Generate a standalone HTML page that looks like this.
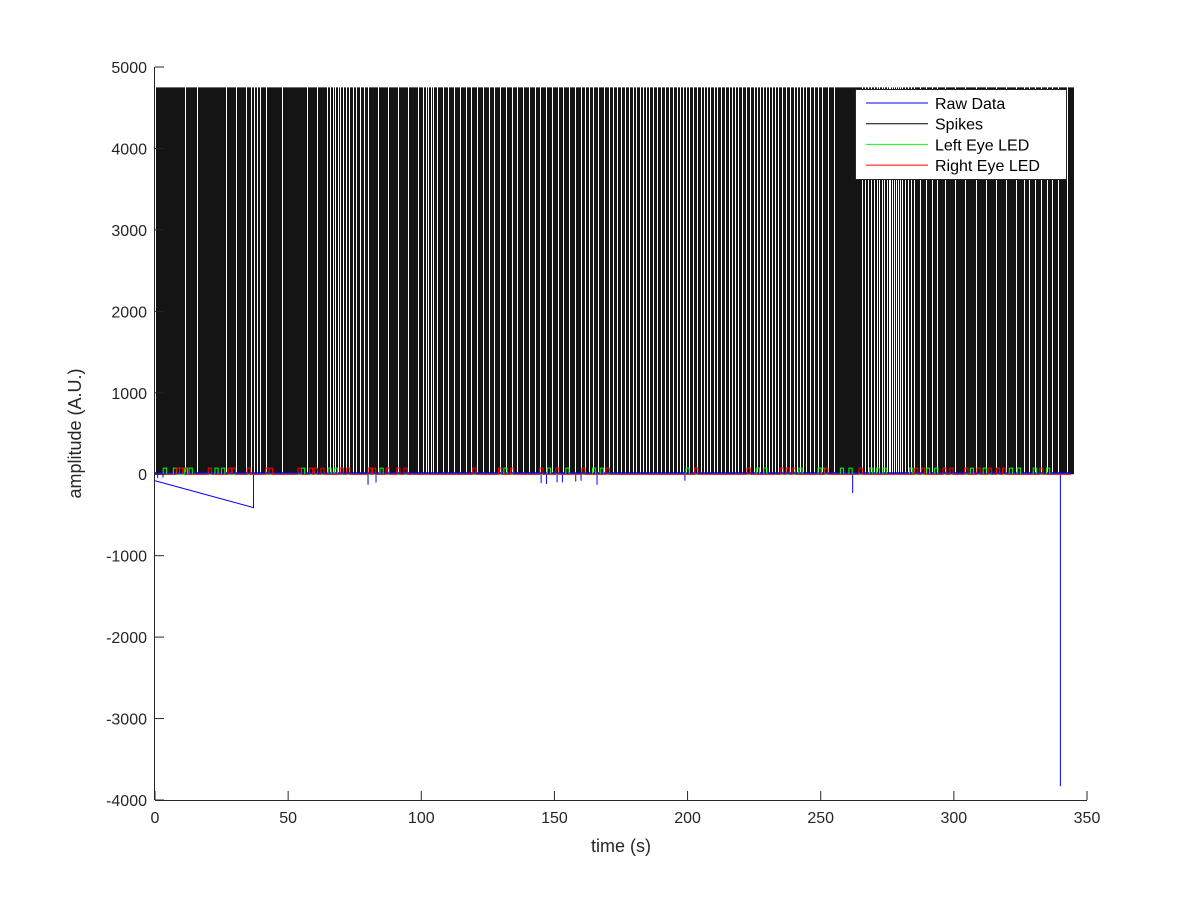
<!DOCTYPE html>
<html><head><meta charset="utf-8"><style>
body{margin:0;background:#fff}
svg{display:block;font-family:"Liberation Sans",sans-serif}
</style></head><body>
<svg id="chart" width="1200" height="900" xmlns="http://www.w3.org/2000/svg">
<rect width="1200" height="900" fill="#fff"/>
<g id="plot"></g>
<g id="axes"></g>
<g id="legend"></g>
</svg>
<script>
// spike counts per 5 s bin (0-5, 5-10, ...)
const spikeBinWidth = 5;
const spikeCounts = [13,13,12,13,13,12,12,9,12,13,13,12,12,8,9,10,12,12,12,12,8,11,11,11,11,11,11,11,11,11,11,11,10,11,10,10,9,10,10,9,10,9,10,9,10,9,9,10,9,10,11,13,13,9,8,6,9,11,11,12,12,12,12,12,12,11,11,11,12];
const spikeAmp = 4750;
const leftLed = [3.1,6.9,11,12.8,22.5,25,55,65,67.3,84.5,131,147.3,154.3,164.3,167.2,199.4,225.8,228.6,241.8,249,250.2,257.4,260.6,268.4,270.9,273.4,283.4,289.7,292.8,306.2,311,320.8,323.8,329.8,334.8];
const rightLed = [8,9.2,10.4,20,27.5,29,34.6,41.6,42.9,53.7,58,59.8,62.3,69.5,72,80,81.7,86.8,90.8,93.5,119.3,129,133.5,144.5,150.5,160.3,169.4,202.7,222.3,234.8,237,239.3,251.5,264.4,285.3,287.8,295.9,298.5,304.1,308.7,312.9,316,318.3,332.3];
const ledAmp = 75, ledWidth = 1.2;
const rawDipTimes = [1,3,80,83,145,147,151,153,158,160,166,199,262,340];
const rawDipValues = [-50,-40,-130,-100,-110,-120,-100,-100,-90,-80,-130,-80,-230,-3830];
const driftTimes = [0,37,37];
const driftValues = [-80,-410,0];
const xTicks = [0,50,100,150,200,250,300,350];
const yTicks = [-4000,-3000,-2000,-1000,0,1000,2000,3000,4000,5000];

const X0=155,X1=1087,Y0=800,Y1=67;
const sx=t=>X0+(t-0)/350*(X1-X0);
const sy=v=>Y0-(v+4000)/9000*(Y0-Y1);
const NS="http://www.w3.org/2000/svg";
function mk(tag,attrs,parent){const e=document.createElementNS(NS,tag);for(const k in attrs)e.setAttribute(k,attrs[k]);parent.appendChild(e);return e;}
const plot=document.getElementById('plot'),axes=document.getElementById('axes'),leg=document.getElementById('legend');

// spikes
let d="";
spikeCounts.forEach((c,b)=>{for(let i=0;i<c;i++){const t=b*spikeBinWidth+(i+0.5)*spikeBinWidth/c;const x=Math.round(sx(t))+0.5;d+=`M${x},${sy(0)}V${sy(spikeAmp)}`;}});
const sp=mk('path',{d:d,stroke:'#000','stroke-width':1,'stroke-opacity':0.92,fill:'none'},plot);



// raw data baseline + dips
let rd=`M${sx(0)},${sy(0)}H${sx(344)}`;
rawDipTimes.forEach((t,i)=>{rd+=`M${sx(t)},${sy(0)}V${sy(rawDipValues[i])}`;});
rd+=`M${sx(driftTimes[0])},${sy(driftValues[0])}`;
for(let i=1;i<driftTimes.length;i++)rd+=`L${sx(driftTimes[i])},${sy(driftValues[i])}`;
const raw=mk('path',{d:rd,stroke:'#0000ff','stroke-width':1,fill:'none'},plot);


const rawThick=mk('line',{x1:sx(0),x2:sx(344),y1:sy(0)-1,y2:sy(0)-1,stroke:'#0000ff','stroke-width':2},plot);



function ledPath(times){let p=`M${sx(0)},${sy(0)}`;times.forEach(t=>{p+=`L${sx(t)},${sy(0)}V${sy(ledAmp)}H${sx(t+ledWidth)}V${sy(0)}`;});p+=`L${sx(344)},${sy(0)}`;return p;}
const lg=mk('path',{d:ledPath(leftLed),stroke:'#00ff00','stroke-width':1,fill:'none'},plot);


const rr=mk('path',{d:ledPath(rightLed),stroke:'#ff0000','stroke-width':1,fill:'none'},plot);



// axes
const xa=mk('line',{x1:X0,x2:X1,y1:Y0+0.5,y2:Y0+0.5,stroke:'#262626','stroke-width':1},axes);


const ya=mk('line',{x1:X0-0.5,x2:X0-0.5,y1:Y1,y2:Y0,stroke:'#262626','stroke-width':1},axes);


xTicks.forEach(v=>{const x=sx(v);
 const tk=mk('line',{x1:x,x2:x,y1:Y0,y2:Y0-9,stroke:'#262626'},axes);
 
 
 const tx=mk('text',{x:x,y:Y0+23,'text-anchor':'middle','font-size':16,fill:'#262626'},axes);tx.textContent=v;
 
 });
yTicks.forEach(v=>{const y=sy(v);
 const tk=mk('line',{x1:X0,x2:X0+9,y1:y,y2:y,stroke:'#262626'},axes);
 
 
 const tx=mk('text',{x:X0-8,y:y+6,'text-anchor':'end','font-size':16,fill:'#262626'},axes);tx.textContent=v;
 
 });
const xt=mk('text',{x:(X0+X1)/2,y:852,'text-anchor':'middle','font-size':18,fill:'#262626'},axes);xt.textContent='time (s)';


const yt=mk('text',{x:0,y:0,'text-anchor':'middle','font-size':18,fill:'#262626',transform:`translate(81,${(Y0+Y1)/2}) rotate(-90)`},axes);yt.textContent='amplitude (A.U.)';



// legend
const lb=mk('rect',{x:855.5,y:89.5,width:211,height:90,fill:'#fff',stroke:'#262626','stroke-width':1},leg);


const legNames=['Raw Data','Spikes','Left Eye LED','Right Eye LED'];
const legColors=['#0000ff','#000','#00ff00','#ff0000'];
legNames.forEach((n,i)=>{const y=103+i*20.7;
 const ln=mk('line',{x1:866,x2:928,y1:y,y2:y,stroke:legColors[i]},leg);
 
 
 const tx=mk('text',{x:935,y:y+6,'font-size':16,fill:'#000'},leg);tx.textContent=n;
 
 });
</script>
</body></html>
